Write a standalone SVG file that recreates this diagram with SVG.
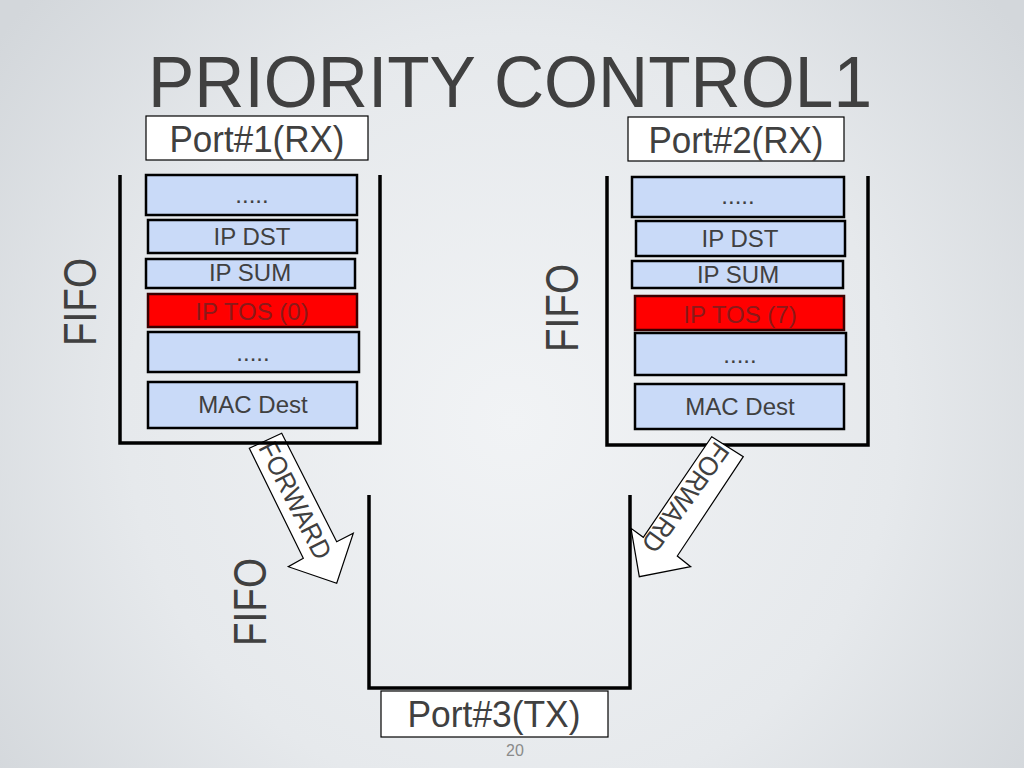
<svg xmlns="http://www.w3.org/2000/svg" width="1024" height="768" viewBox="0 0 1024 768">
<defs>
<radialGradient id="bg" cx="512" cy="420" r="640" gradientUnits="userSpaceOnUse">
<stop offset="0" stop-color="#f1f3f5"/>
<stop offset="0.6" stop-color="#e6e9ec"/>
<stop offset="1" stop-color="#d3d7db"/>
</radialGradient>
<style>
text{font-family:"Liberation Sans",Arial,sans-serif;fill:#404040}
.t{font-size:24px;text-anchor:middle}
.cell{fill:#c9daf8;stroke:#000;stroke-width:2.5}
.red{fill:#ff0000;stroke:#3a0000;stroke-width:2.5}
.redt{fill:#8a1a1a}
.port{fill:#fff;stroke:#000;stroke-width:1.2}
.pt{font-size:37px;text-anchor:middle}
.fifo{font-size:46px;text-anchor:middle}
.br{fill:none;stroke:#000;stroke-width:3.5}
.arrow{fill:#fff;stroke:#000;stroke-width:1.2}
.fw{font-size:27px;text-anchor:middle}
</style>
</defs>
<rect width="1024" height="768" fill="url(#bg)"/>
<text x="510" y="107" font-size="73" text-anchor="middle" textLength="724" lengthAdjust="spacingAndGlyphs">PRIORITY CONTROL1</text>

<g id="port1">
<rect class="port" x="146" y="116" width="222" height="44"/>
<text class="pt" x="257" y="152" textLength="175" lengthAdjust="spacingAndGlyphs">Port#1(RX)</text>
</g>
<g id="port2">
<rect class="port" x="628" y="117" width="216" height="44"/>
<text class="pt" x="736" y="153" textLength="175" lengthAdjust="spacingAndGlyphs">Port#2(RX)</text>
</g>

<g id="arrow-left">
<polygon class="arrow" points="249.3,448.3 281.7,433.3 336.7,541.7 353.3,533.3 336.7,583.3 288.3,566.7 303.3,558.3"/>
<text class="fw" transform="translate(296,500) rotate(63)" y="10" textLength="128" lengthAdjust="spacingAndGlyphs">FORWARD</text>
</g>

<g id="fifo1">
<path class="br" d="M120,175 V443 H380 V175"/>
<text class="fifo" transform="translate(96,302) rotate(-90)" textLength="88" lengthAdjust="spacingAndGlyphs">FIFO</text>
</g>
<g id="stack1">
<rect class="cell" x="146" y="175" width="211" height="40"/>
<text class="t" x="252" y="203">.....</text>
<rect class="cell" x="148" y="220" width="209" height="33"/>
<text class="t" x="252" y="245">IP DST</text>
<rect class="cell" x="146" y="259" width="209" height="29"/>
<text class="t" x="250" y="281">IP SUM</text>
<rect class="red" x="148" y="294" width="209" height="33"/>
<text class="t redt" x="252" y="320">IP TOS (0)</text>
<rect class="cell" x="148" y="332" width="211" height="40"/>
<text class="t" x="253" y="361">.....</text>
<rect class="cell" x="148" y="382" width="209" height="46"/>
<text class="t" x="253" y="413">MAC Dest</text>
</g>

<g id="fifo2">
<path class="br" d="M607,176 V445 H868 V176"/>
<text class="fifo" transform="translate(578,308) rotate(-90)" textLength="88" lengthAdjust="spacingAndGlyphs">FIFO</text>
</g>
<g id="stack2">
<rect class="cell" x="632" y="177" width="212" height="40"/>
<text class="t" x="738" y="204">.....</text>
<rect class="cell" x="636" y="221" width="209" height="35"/>
<text class="t" x="740" y="247">IP DST</text>
<rect class="cell" x="632" y="261" width="211" height="27"/>
<text class="t" x="738" y="283">IP SUM</text>
<rect class="red" x="635" y="296" width="209" height="34"/>
<text class="t redt" x="740" y="323">IP TOS (7)</text>
<rect class="cell" x="635" y="333" width="211" height="42"/>
<text class="t" x="740" y="363">.....</text>
<rect class="cell" x="635" y="384" width="209" height="45"/>
<text class="t" x="740" y="415">MAC Dest</text>
</g>

<g id="arrow-right">
<polygon class="arrow" points="711.7,436.7 743.3,456.7 677.3,556 690.7,566.7 639.3,576.7 631,528.3 643.3,537.3"/>
<text class="fw" transform="translate(686,498) rotate(126)" y="10" textLength="128" lengthAdjust="spacingAndGlyphs">FORWARD</text>
</g>

<g id="fifo3">
<path class="br" d="M369,495 V688 H630 V495"/>
<text class="fifo" transform="translate(266,602) rotate(-90)" textLength="88" lengthAdjust="spacingAndGlyphs">FIFO</text>
</g>
<g id="port3">
<rect class="port" x="381" y="691" width="227" height="46"/>
<text class="pt" x="494" y="727" textLength="173" lengthAdjust="spacingAndGlyphs">Port#3(TX)</text>
</g>
<text x="515" y="756" font-size="16" text-anchor="middle" style="fill:#8a8a8a">20</text>
</svg>
